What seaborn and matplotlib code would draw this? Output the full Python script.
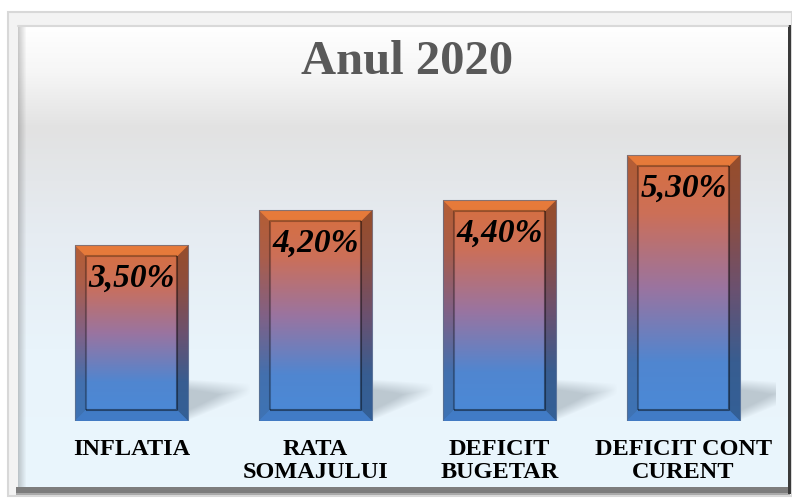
import numpy as np
import pandas as pd
import matplotlib
matplotlib.use("Agg")
import matplotlib.pyplot as plt
import seaborn as sns
from matplotlib.patches import Polygon, Rectangle
from matplotlib.colors import LinearSegmentedColormap, to_rgb

# ---- data ----
categories = ["INFLATIA", "RATA\nSOMAJULUI", "DEFICIT\nBUGETAR", "DEFICIT CONT\nCURENT"]
values = [3.50, 4.20, 4.40, 5.30]
value_labels = ["3,50%", "4,20%", "4,40%", "5,30%"]
title = "Anul 2020"

W, H = 792, 499
sns.set_theme(style="white")
plt.rcParams["font.family"] = ["Liberation Serif", "DejaVu Serif"]

fig = plt.figure(figsize=(W / 100, H / 100), dpi=100)

# ---- background / frame (pixel coordinates, y down) ----
bg = fig.add_axes([0, 0, 1, 1])
bg.set_xlim(0, W)
bg.set_ylim(H, 0)
bg.axis("off")
bg.add_patch(Rectangle((0, 0), W, H, color="white", zorder=0))
bg.add_patch(Rectangle((8, 12), W - 8, H - 12 - 3, facecolor="#f3f3f3",
                       edgecolor="#d8d8d8", lw=1.5, zorder=1))
stops = [(0.0, "#ffffff"), (0.10, "#f6f6f6"), (0.22, "#e2e2e2"),
         (0.45, "#e6ecf2"), (0.70, "#e9f4fb"), (1.0, "#eaf6fd")]
cm_bg = LinearSegmentedColormap.from_list("bg", stops)
px0, px1, py0, py1 = 18, 788, 26, 487
grad = np.linspace(0, 1, 256).reshape(-1, 1)
bg.imshow(grad, cmap=cm_bg, extent=(px0, px1, py1, py0), aspect="auto", zorder=2)
for i in range(8):
    a = 0.30 * (1 - i / 8)
    bg.add_patch(Rectangle((px0 + i, py0), 1, py1 - py0, color="#555555", alpha=a, lw=0, zorder=3))
bg.add_patch(Rectangle((px0 - 2, py1), px1 - px0 + 4, 6, color="#7d7d7d", lw=0, zorder=3))
bg.add_patch(Rectangle((px0 - 2, py1 + 6), px1 - px0 + 4, 2, color="#a9a9a9", lw=0, zorder=3))
bg.add_patch(Rectangle((px1, py0 - 1), 3, py1 - py0 + 8, color="#3a3a3a", lw=0, zorder=3))
bg.plot([px0, px1], [py0, py0], color="#d9d9d9", lw=1.5, zorder=3)

bg.text(407, 62, title, ha="center", va="center", fontsize=35, fontweight="bold",
        color="#595959", zorder=4)

# ---- main axes ----
x_left, x_right = 39.5, 775.5
y_base, y_top = 421, 120
ax = fig.add_axes([x_left / W, (H - y_base) / H, (x_right - x_left) / W, (y_base - y_top) / H])
ax.patch.set_alpha(0)
df = pd.DataFrame({"cat": categories, "val": values})
sns.barplot(data=df, x="cat", y="val", ax=ax, width=0.615, color="#d9714a",
            saturation=1, zorder=3)
ax.set_xlim(-0.5, 3.5)
ax.set_ylim(0, 6)
ax.set_xlabel("")
ax.set_ylabel("")
ax.set_yticks([])
for s in ax.spines.values():
    s.set_visible(False)
ax.tick_params(axis="x", length=0, pad=13)
for lab in ax.get_xticklabels():
    lab.set_fontsize(17.5)
    lab.set_fontweight("bold")
    lab.set_color("black")
    lab.set_linespacing(1.12)

dx = 4.0 / (x_right - x_left)
dy = 6.0 / (y_base - y_top)

cm_bar = LinearSegmentedColormap.from_list(
    "bar", [(0.0, "#4a8ad8"), (0.22, "#5086d0"), (0.50, "#9a74a0"),
            (0.78, "#cc6f58"), (1.0, "#d8703e")])

# soft shadow image (u across, v up)
nu, nv = 64, 50
u = np.linspace(0, 1, nu)[None, :]
v = np.linspace(0, 1, nv)[:, None]
center = 0.42 + 0.22 * u
half = 0.42 - 0.30 * u
d = np.abs(v - center) / half
alpha_sh = np.clip(1 - d, 0, 1) ** 0.9 * (1 - u) ** 0.9 * 0.55
alpha_sh = np.clip(alpha_sh * 1.4, 0, 0.42)
shadow = np.zeros((nv, nu, 4))
shadow[..., :3] = to_rgb("#7f8c96")
shadow[..., 3] = alpha_sh

for p, lbl in zip(ax.patches, value_labels):
    x0 = p.get_x()
    w = p.get_width()
    h = p.get_height()
    x1 = x0 + w
    p.set_facecolor("none")
    p.set_edgecolor("none")
    ax.imshow(shadow, origin="lower", extent=(x1, x1 + 62 * dx, 0, 50 * dy),
              aspect="auto", zorder=2, interpolation="bilinear")
    g = np.linspace(0, 1, 256).reshape(-1, 1)
    ax.imshow(g, cmap=cm_bar, vmin=0, vmax=1, origin="lower", extent=(x0, x1, 0, h),
              aspect="auto", zorder=3, interpolation="bilinear")
    bx = 11 * dx
    by = 11 * dy
    top = Polygon([(x0, h), (x1, h), (x1 - bx, h - by), (x0 + bx, h - by)], closed=True,
                  facecolor="#ee8038", alpha=0.7, edgecolor="none", zorder=4)
    left = Polygon([(x0, 0), (x0, h), (x0 + bx, h - by), (x0 + bx, by)], closed=True,
                   facecolor="black", alpha=0.16, edgecolor="none", zorder=4)
    right = Polygon([(x1, 0), (x1, h), (x1 - bx, h - by), (x1 - bx, by)], closed=True,
                    facecolor="black", alpha=0.30, edgecolor="none", zorder=4)
    bot = Polygon([(x0, 0), (x1, 0), (x1 - bx, by), (x0 + bx, by)], closed=True,
                  facecolor="#3a70b8", alpha=0.55, edgecolor="none", zorder=4)
    for q in (top, left, right, bot):
        ax.add_patch(q)
    ax.plot([x0 + bx, x0 + bx, x1 - bx], [by, h - by, h - by], color="black", alpha=0.30,
            lw=1.5, zorder=5, solid_capstyle="butt")
    ax.plot([x1 - bx, x1 - bx, x0 + bx], [h - by, by, by], color="black", alpha=0.45,
            lw=1.5, zorder=5, solid_capstyle="butt")
    ax.add_patch(Rectangle((x0, 0), w, h, facecolor="none", edgecolor="#60708a",
                           lw=0.8, alpha=0.7, zorder=6))
    ax.annotate(lbl, xy=(x0 + w / 2, h), xytext=(0, -33), textcoords="offset pixels",
                ha="center", va="center", fontsize=24, fontweight="bold", fontstyle="italic",
                color="black", zorder=7)

fig.savefig("out.png", dpi=100)
